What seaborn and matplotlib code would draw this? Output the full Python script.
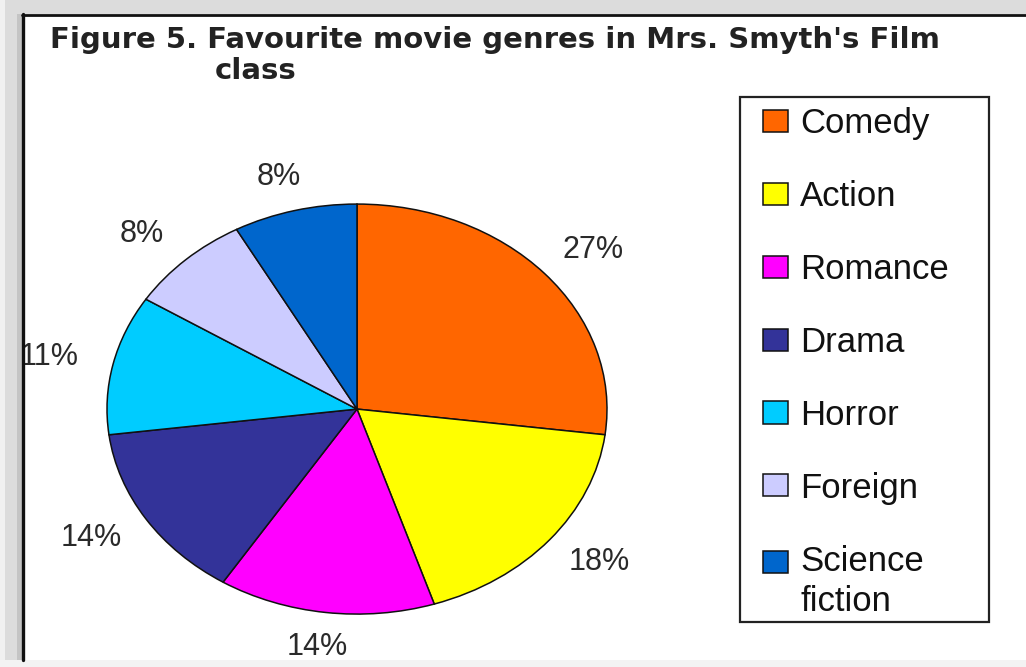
import matplotlib
matplotlib.use("Agg")
import matplotlib.pyplot as plt
from matplotlib.patches import Rectangle
from matplotlib.lines import Line2D
from matplotlib.legend_handler import HandlerPatch
import seaborn as sns

# Survey results: share of the class naming each genre as favourite (%)
genres = ["Comedy", "Action", "Romance", "Drama", "Horror", "Foreign", "Science\nfiction"]
shares = [27, 18, 14, 14, 11, 8, 8]
colors = ["#FF6600", "#FFFF00", "#FF00FF", "#333399", "#00CCFF", "#CCCCFF", "#0066CC"]
title_line1 = "Figure 5. Favourite movie genres in Mrs. Smyth's Film"
title_line2 = "class"

sns.set_theme(style="white")
plt.rcParams["font.family"] = ["Liberation Sans", "DejaVu Sans"]

W, H, DPI = 1026, 667, 100
fig = plt.figure(figsize=(W / DPI, H / DPI), dpi=DPI, facecolor="#dcdcdc")


def fx(px):
    return px / W


def fy(py):
    return 1 - py / H


# page-like backdrop: light outer strips, shaded gutter, white sheet with a dark edge
fig.patches.append(Rectangle((0, 0), fx(5), 1, transform=fig.transFigure,
                             facecolor="#f1f1f1", edgecolor="none", zorder=-3))
fig.patches.append(Rectangle((fx(17), 0), fx(5), fy(14), transform=fig.transFigure,
                             facecolor="#c4c4c4", edgecolor="none", zorder=-3))
fig.patches.append(Rectangle((0, 0), 1, fy(660), transform=fig.transFigure,
                             facecolor="#f3f3f3", edgecolor="none", zorder=-3))
fig.patches.append(Rectangle((fx(22), fy(660)), 1 - fx(22), fy(14) - fy(660),
                             transform=fig.transFigure, facecolor="white",
                             edgecolor="none", zorder=-2))
fig.lines.append(Line2D([fx(23), fx(23)], [fy(660), fy(14)], transform=fig.transFigure,
                        color="#111111", linewidth=2.4, zorder=1))
fig.lines.append(Line2D([fx(22), 1], [fy(14.5), fy(14.5)], transform=fig.transFigure,
                        color="#111111", linewidth=2.0, zorder=1))

# title (two lines, second one indented)
title_font = dict(family="DejaVu Sans", weight="bold", size=21, color="#222222")
fig.text(fx(50), fy(48), title_line1, ha="left", va="baseline", **title_font)
fig.text(fx(215), fy(79), title_line2, ha="left", va="baseline", **title_font)

# pie, drawn as an ellipse (unequal x/y scale)
ax = fig.add_axes([fx(30), fy(660), fx(730) - fx(30), fy(70) - fy(660)])
ax.patch.set_visible(False)
wedges, _, autotexts = ax.pie(
    shares, colors=colors, startangle=90, counterclock=False,
    autopct="%.0f%%", pctdistance=1.0,
    wedgeprops=dict(edgecolor="#111111", linewidth=1.1),
    textprops=dict(fontsize=22, color="#2a2a2a", family="Liberation Sans"),
)
# push the percentage labels out past the rim (a little further sideways)
for t in autotexts:
    x, y = t.get_position()
    t.set_position((x * 1.26, y * 1.17))
ax.set_aspect("auto")
ax.set_xlim(-1.308, 1.492)
ax.set_ylim(-1.224, 1.654)
ax.axis("off")

# legend
leg_fs = 25
second_line_spacing = 1.27
# the two-line label is centred on its marker; raise the marker to the first line
lift = 0.5 * 0.883 * second_line_spacing * leg_fs + 0.5


def lifted_square(legend, orig_handle, xdescent, ydescent, width, height, fontsize):
    return Rectangle((-xdescent, -ydescent + lift), width, height)


handler_map = {wedges[-1]: HandlerPatch(patch_func=lifted_square)}
leg = fig.legend(
    wedges, genres, loc="upper left",
    bbox_to_anchor=(fx(763), fy(107)), bbox_transform=fig.transFigure,
    frameon=False, borderpad=0, borderaxespad=0,
    prop=dict(family="Liberation Sans", size=leg_fs),
    labelcolor="#111111", labelspacing=1.15,
    handlelength=0.72, handleheight=0.6, handletextpad=0.35,
    handler_map=handler_map,
)
leg.get_texts()[-1].set_linespacing(second_line_spacing)

# legend box
fig.patches.append(Rectangle((fx(740), fy(622)), fx(989) - fx(740), fy(97) - fy(622),
                             transform=fig.transFigure, facecolor="none",
                             edgecolor="#222222", linewidth=1.6, zorder=3))

fig.savefig("out.png", dpi=DPI, facecolor=fig.get_facecolor())
